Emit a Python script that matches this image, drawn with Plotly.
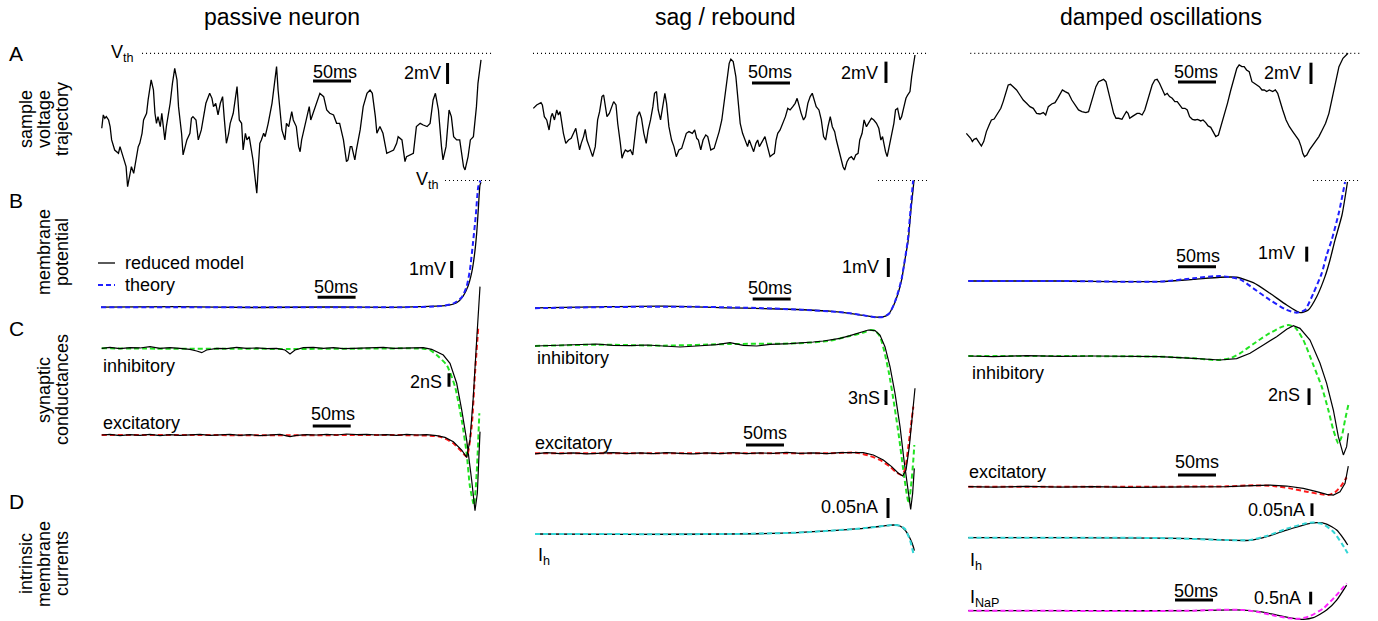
import plotly.graph_objects as go

W, H = 1378, 621
FONT = "Liberation Sans, Arial, Helvetica, sans-serif"

# ---------------- data (time in ms relative to spike threshold crossing) ----------------
# A: sample voltage trajectories, V - Vth (mV)
A_PASSIVE = [(-499,-7.14),(-497,-5.87),(-495,-6.19),(-493,-6.03),(-490,-6.35),(-488,-6.98),(-486,-8.25),(-482,-9.21),(-477,-9.52),(-475,-8.89),(-471,-9.84),(-467,-10.79),(-465,-12.70),(-463,-11.75),(-460,-10.79),(-457,-11.43),(-455,-10.48),(-451,-8.89),(-449,-8.57),(-446,-7.62),(-444,-6.35),(-440,-5.71),(-438,-4.44),(-434,-2.54),(-431,-3.49),(-429,-5.71),(-427,-6.67),(-425,-6.03),(-422,-6.98),(-420,-5.71),(-418,-6.98),(-416,-8.25),(-414,-6.98),(-409,-4.76),(-406,-2.86),(-403,-1.43),(-400,-2.54),(-398,-5.08),(-396,-6.35),(-394,-7.62),(-392,-9.68),(-387,-8.25),(-383,-7.62),(-381,-6.19),(-379,-6.03),(-375,-6.35),(-372,-8.25),(-368,-7.30),(-362,-4.76),(-359,-4.13),(-357,-3.81),(-354,-4.29),(-352,-5.08),(-349,-4.76),(-346,-5.87),(-343,-4.76),(-340,-4.13),(-338,-6.03),(-335,-8.57),(-332,-7.62),(-330,-6.67),(-326,-5.71),(-321,-3.17),(-318,-6.35),(-315,-6.67),(-313,-9.21),(-310,-7.62),(-308,-8.25),(-305,-7.94),(-300,-10.16),(-295,-13.33),(-293,-10.79),(-291,-8.57),(-289,-8.25),(-286,-7.62),(-284,-7.94),(-280,-6.67),(-275,-4.76),(-272,-2.86),(-269,-1.27),(-267,-3.49),(-264,-6.03),(-262,-7.30),(-258,-8.25),(-256,-6.67),(-253,-6.98),(-249,-5.56),(-247,-6.35),(-243,-6.98),(-240,-8.89),(-238,-9.37),(-236,-8.25),(-234,-7.62),(-229,-6.03),(-226,-5.08),(-224,-6.35),(-221,-5.71),(-216,-4.76),(-212,-3.81),(-207,-4.13),(-203,-5.40),(-199,-5.71),(-194,-5.87),(-190,-6.67),(-186,-6.67),(-181,-8.25),(-177,-10.32),(-175,-10.16),(-172,-8.89),(-170,-8.89),(-168,-9.68),(-166,-10.16),(-164,-9.21),(-159,-7.30),(-155,-5.08),(-150,-3.81),(-146,-3.49),(-143,-3.81),(-139,-6.03),(-137,-7.62),(-133,-6.98),(-129,-7.62),(-124,-9.52),(-120,-9.37),(-115,-9.21),(-111,-8.57),(-109,-7.94),(-104,-8.25),(-100,-10.32),(-98,-9.84),(-93,-9.68),(-89,-9.52),(-85,-6.98),(-80,-6.67),(-76,-6.83),(-71,-6.98),(-67,-6.67),(-63,-4.44),(-60,-3.81),(-56,-5.40),(-52,-8.89),(-50,-10.16),(-46,-8.89),(-42,-5.40),(-39,-6.03),(-36,-7.94),(-32,-8.25),(-28,-8.25),(-23,-10.79),(-21,-11.11),(-17,-9.84),(-14,-8.25),(-10,-7.94),(-6,-5.08),(-4,-2.86),(0,-0.63)]

A_SAG = [(-502.2,-5.16),(-497.8,-4.84),(-492.1,-4.63),(-490.3,-4.84),(-487.7,-5.94),(-484.6,-6.25),(-481.5,-7.19),(-478.9,-5.94),(-477.1,-5.63),(-474.4,-6.25),(-471.4,-5.31),(-469.2,-5.78),(-467.0,-5.47),(-464.8,-6.56),(-462.6,-7.50),(-459.5,-8.44),(-455.9,-8.13),(-452.4,-7.97),(-449.3,-7.50),(-446.3,-7.03),(-443.6,-8.13),(-441.4,-9.06),(-439.2,-8.44),(-436.1,-7.81),(-433.9,-7.13),(-431.7,-8.13),(-428.6,-8.75),(-424.2,-9.69),(-420.7,-8.75),(-417.6,-6.25),(-415.0,-5.47),(-411.9,-4.06),(-409.7,-3.91),(-407.5,-5.00),(-405.3,-5.94),(-402.2,-5.63),(-398.7,-5.00),(-396.5,-4.53),(-393.4,-4.84),(-391.2,-6.56),(-387.7,-8.44),(-385.5,-9.84),(-383.3,-9.38),(-381.1,-9.06),(-378.0,-9.22),(-374.4,-9.06),(-371.4,-9.53),(-368.7,-7.81),(-365.6,-5.94),(-362.6,-5.47),(-359.9,-6.09),(-356.8,-7.50),(-353.7,-8.44),(-351.1,-7.19),(-348.0,-6.25),(-344.9,-5.00),(-342.7,-3.75),(-340.1,-3.59),(-337.9,-5.31),(-334.8,-6.25),(-331.7,-5.00),(-329.1,-3.75),(-326.9,-4.69),(-323.8,-6.88),(-320.3,-8.13),(-317.2,-8.75),(-314.1,-9.69),(-310.6,-9.06),(-307.0,-8.91),(-304.0,-8.13),(-300.9,-7.50),(-297.4,-7.34),(-293.0,-7.50),(-289.9,-7.19),(-287.2,-7.97),(-285.0,-8.13),(-281.9,-9.06),(-278.9,-8.13),(-275.3,-7.66),(-272.7,-7.81),(-270.9,-8.44),(-268.7,-9.06),(-264.3,-8.91),(-260.8,-8.13),(-257.7,-7.34),(-254.2,-6.25),(-251.1,-4.38),(-248.0,-2.50),(-244.5,-0.94),(-242.3,-0.56),(-239.2,-0.78),(-235.7,-2.19),(-232.6,-4.38),(-230.0,-6.56),(-226.9,-7.50),(-223.3,-8.28),(-220.3,-8.75),(-218.1,-8.13),(-214.5,-8.91),(-212.3,-9.22),(-209.3,-8.44),(-207.0,-8.13),(-204.8,-8.75),(-202.6,-8.44),(-199.6,-8.13),(-197.4,-7.81),(-195.2,-8.44),(-192.5,-9.38),(-190.7,-9.69),(-188.1,-9.53),(-185.0,-9.38),(-182.8,-8.13),(-180.6,-7.50),(-177.5,-7.19),(-174.0,-6.56),(-170.5,-5.94),(-167.4,-5.16),(-164.3,-5.31),(-160.8,-5.00),(-157.7,-4.69),(-155.1,-4.22),(-152.9,-4.84),(-149.8,-5.63),(-146.7,-6.25),(-144.1,-5.94),(-141.0,-4.69),(-137.9,-4.06),(-135.2,-3.75),(-132.2,-4.38),(-130.0,-5.00),(-126.4,-5.31),(-123.3,-6.25),(-120.3,-7.81),(-117.6,-8.13),(-114.5,-6.88),(-111.5,-5.94),(-108.8,-6.88),(-105.7,-7.34),(-103.5,-8.13),(-101.3,-8.75),(-98.2,-9.69),(-94.7,-10.63),(-92.5,-10.94),(-89.4,-10.16),(-86.8,-9.84),(-83.7,-9.69),(-80.6,-10.00),(-78.0,-9.53),(-74.9,-9.38),(-72.7,-8.13),(-69.6,-7.50),(-67.0,-6.25),(-63.9,-6.88),(-60.8,-6.56),(-57.3,-6.09),(-54.2,-6.25),(-50.7,-6.56),(-47.6,-7.03),(-44.9,-8.13),(-42.7,-7.81),(-41.0,-8.44),(-38.8,-9.22),(-36.6,-9.69),(-33.9,-8.75),(-30.8,-7.50),(-27.8,-6.56),(-25.6,-5.31),(-22.9,-5.16),(-19.8,-6.25),(-17.6,-5.94),(-14.5,-5.00),(-11.9,-4.22),(-9.7,-3.91),(-6.6,-3.59),(-4.4,-2.19),(-2.2,-0.94),(0.0,-0.16)]

A_DAMPED = [(-502.2,-7.50),(-499.1,-7.75),(-496.5,-7.97),(-494.3,-8.28),(-492.1,-8.06),(-489.0,-7.97),(-485.9,-8.28),(-482.4,-8.69),(-479.3,-8.28),(-475.8,-7.34),(-472.2,-6.72),(-469.2,-6.25),(-465.6,-6.16),(-462.6,-5.78),(-459.5,-5.41),(-456.8,-5.16),(-453.7,-4.53),(-450.7,-3.75),(-447.1,-2.97),(-444.1,-2.91),(-440.5,-3.13),(-436.1,-3.44),(-431.7,-3.91),(-427.3,-4.38),(-422.9,-4.69),(-418.5,-5.00),(-414.1,-5.16),(-409.7,-5.63),(-405.3,-5.69),(-400.9,-5.56),(-397.8,-5.78),(-394.3,-5.00),(-389.9,-4.75),(-385.5,-4.63),(-382.0,-4.22),(-378.9,-3.75),(-375.8,-3.44),(-372.2,-3.59),(-367.8,-3.75),(-363.4,-4.38),(-359.0,-4.84),(-354.6,-5.31),(-350.2,-5.47),(-344.9,-5.56),(-341.4,-5.47),(-337.9,-4.53),(-334.8,-3.75),(-331.7,-3.13),(-328.2,-2.66),(-324.7,-2.50),(-321.6,-2.44),(-318.5,-2.66),(-315.0,-3.59),(-311.5,-4.69),(-308.4,-5.63),(-305.3,-6.09),(-301.8,-6.09),(-297.4,-6.19),(-294.3,-5.78),(-291.6,-5.47),(-289.4,-5.63),(-287.2,-6.09),(-284.1,-5.94),(-280.6,-5.78),(-277.5,-5.63),(-274.4,-5.63),(-270.9,-5.78),(-267.4,-5.31),(-264.3,-4.53),(-261.2,-3.75),(-257.7,-2.97),(-254.2,-2.50),(-251.1,-2.44),(-248.0,-2.81),(-244.5,-3.44),(-241.0,-3.91),(-237.9,-3.75),(-234.8,-4.06),(-231.3,-4.22),(-227.8,-4.53),(-224.7,-4.53),(-221.6,-4.84),(-218.1,-5.16),(-214.5,-5.16),(-211.5,-5.31),(-208.4,-5.94),(-204.8,-6.19),(-201.3,-6.25),(-197.8,-6.19),(-193.8,-6.34),(-190.7,-6.25),(-187.2,-6.50),(-184.1,-6.81),(-180.6,-6.94),(-177.5,-7.34),(-174.0,-7.81),(-170.5,-7.66),(-167.4,-6.88),(-163.0,-5.94),(-158.6,-4.69),(-154.2,-3.44),(-149.8,-2.19),(-146.3,-1.41),(-143.2,-1.09),(-139.6,-1.25),(-136.6,-1.25),(-133.5,-1.56),(-130.0,-1.72),(-126.4,-2.66),(-123.3,-2.81),(-120.3,-2.97),(-116.7,-3.13),(-113.2,-3.44),(-110.1,-3.44),(-107.0,-3.59),(-103.5,-3.44),(-99.1,-3.59),(-95.6,-3.44),(-92.5,-3.75),(-89.4,-4.53),(-85.9,-5.31),(-81.5,-6.25),(-77.1,-6.88),(-72.7,-7.34),(-68.3,-7.75),(-64.8,-8.13),(-61.7,-8.75),(-59.5,-9.38),(-57.3,-9.69),(-54.2,-9.53),(-50.7,-9.06),(-47.1,-8.69),(-42.7,-8.28),(-38.3,-7.81),(-33.9,-7.19),(-29.5,-6.56),(-25.1,-5.63),(-20.7,-4.06),(-16.3,-2.50),(-11.9,-1.25),(-6.6,-0.47),(-2.2,-0.09),(0.0,0.0)]

# B: spike-triggered membrane potential, V - Vth (mV)
B_PASSIVE_MODEL = [(-500,-7.45),(-400,-7.42),(-300,-7.47),(-200,-7.44),(-120,-7.46),(-80,-7.42),(-45.1,-7.35),(-32,-7.19),(-23.7,-6.81),(-17.1,-6.22),(-12.2,-5.41),(-8.8,-4.45),(-5.7,-3.11),(-3.6,-1.74),(-1.3,-0.26),(0,-0.1)]
B_PASSIVE_THEORY = [(-500,-7.45),(-300,-7.45),(-100,-7.45),(-53.9,-7.39),(-36.8,-7.24),(-25.4,-6.88),(-18.8,-6.22),(-14.5,-5.24),(-10.5,-3.65),(-7.0,-2.13),(-3.6,-0.36),(-2.2,-0.2),(-1.0,0.0)]
B_SAG_MODEL = [(-500,-6.70),(-418.8,-6.65),(-331.2,-6.61),(-243.4,-6.70),(-199.6,-6.74),(-155.7,-6.79),(-111.8,-6.88),(-76.7,-7.05),(-54.8,-7.18),(-43.9,-7.19),(-35.1,-7.05),(-28.5,-6.61),(-22.0,-5.91),(-17.5,-5.21),(-13.2,-4.16),(-8.8,-3.11),(-5.3,-1.53),(-1.3,0.0)]
B_SAG_THEORY = [(-500,-6.72),(-400,-6.66),(-300,-6.64),(-200,-6.72),(-150,-6.80),(-100,-6.92),(-70,-7.08),(-52,-7.20),(-42,-7.18),(-34,-7.00),(-28,-6.55),(-22,-5.85),(-17.5,-5.15),(-13.5,-4.20),(-9.5,-3.15),(-6,-1.6),(-2.5,0.0)]
B_DAMPED_MODEL = [(-499.6,-6.70),(-378.9,-6.70),(-247.4,-6.74),(-203.5,-6.59),(-168.4,-6.45),(-146.5,-6.45),(-124.6,-6.81),(-102.6,-7.52),(-80.7,-8.30),(-63.2,-8.81),(-52.2,-8.63),(-41.2,-7.75),(-30.3,-6.41),(-23.7,-5.30),(-17.1,-3.97),(-7.9,-2.3),(-0.7,-0.1)]
B_DAMPED_THEORY = [(-499.6,-6.70),(-378.9,-6.70),(-247.4,-6.74),(-203.5,-6.52),(-168.4,-6.37),(-142.1,-6.59),(-124.6,-7.19),(-102.6,-7.97),(-80.7,-8.63),(-67.5,-8.81),(-56.6,-8.63),(-45.6,-7.52),(-34.6,-6.19),(-28.0,-4.97),(-21.5,-3.97),(-11.8,-2.1),(-3.9,-0.1)]

# C: spike-triggered synaptic conductances, change from mean (nS)
C_PASSIVE_INH_MODEL = [(-499.1,0),(-488.2,0.15),(-475.0,-0.05),(-461.8,0.10),(-448.7,0.05),(-435.5,0.25),(-422.4,0),(-409.2,0.10),(-396.1,0),(-382.9,-0.15),(-374.1,-0.40),(-367.5,-0.65),(-361.0,-0.25),(-347.8,0),(-334.6,-0.05),(-321.5,0.15),(-308.3,0),(-295.2,0.05),(-282.0,-0.05),(-268.9,0),(-257.9,-0.25),(-251.3,-0.85),(-244.7,-0.25),(-233.8,0.10),(-220.6,0.15),(-207.5,0),(-194.3,0.10),(-181.1,-0.05),(-168.0,0),(-154.8,0.05),(-141.7,0.10),(-128.5,0.15),(-115.4,0),(-102.2,0.05),(-89.0,0.15),(-75.9,0.10),(-64.9,-0.15),(-56.1,-0.60),(-49.6,-1.00),(-40.8,-2.24),(-32.0,-5.22),(-25.4,-9.20),(-18.9,-13.68),(-12.3,-19.65),(-7.9,-24.23),(-4.8,-21.64),(-2.2,-13.68),(-1.3,-12.44)]
C_PASSIVE_INH_THEORY = [(-499.1,0),(-426.8,-0.05),(-339.0,-0.05),(-251.3,-0.10),(-163.6,-0.05),(-75.9,-0.05),(-67.1,-0.25),(-58.3,-1.00),(-45.2,-2.49),(-34.2,-5.72),(-25.4,-10.70),(-18.9,-15.67),(-14.5,-20.65),(-9.2,-23.38),(-5.7,-18.66),(-2.2,-9.70)]
C_PASSIVE_EXC_MODEL = [(-499.1,0),(-488.2,0.10),(-475.0,-0.10),(-461.8,0.05),(-448.7,-0.05),(-435.5,0.10),(-422.4,-0.10),(-409.2,0.05),(-396.1,-0.05),(-382.9,0),(-369.7,0.10),(-356.6,-0.05),(-343.4,0.05),(-330.3,0.10),(-317.1,-0.05),(-303.9,0.05),(-290.8,-0.10),(-277.6,0),(-264.5,0.10),(-251.3,-0.25),(-242.5,-0.05),(-229.4,0.05),(-216.2,0),(-203.1,0.10),(-189.9,0),(-176.8,0.15),(-163.6,0.05),(-150.4,0.10),(-137.3,0),(-124.1,0.05),(-111.0,-0.05),(-97.8,0.10),(-84.6,0),(-71.5,0.05),(-58.3,-0.10),(-47.4,-0.35),(-36.4,-1.00),(-25.4,-2.24),(-18.9,-3.33),(-14.5,-0.75),(-10.1,5.72),(-5.7,14.18),(-1.3,22.14)]
C_PASSIVE_EXC_THEORY = [(-499.1,0),(-382.9,0),(-251.3,-0.05),(-119.7,0),(-53.9,-0.25),(-36.4,-1.24),(-25.4,-2.49),(-18.9,-3.23),(-12.3,1.24),(-7.9,9.20),(-3.5,16.17)]

C_SAG_INH_MODEL = [(-500.0,0),(-480.3,0.07),(-462.7,0.13),(-440.8,0.20),(-418.9,0.40),(-396.9,0.13),(-375.0,0.07),(-353.1,0.20),(-331.1,0),(-309.2,-0.20),(-287.3,0),(-261.0,0.27),(-243.4,0.67),(-225.9,0.13),(-208.3,0),(-190.8,0.33),(-164.5,0.47),(-146.9,0.60),(-133.8,0.80),(-120.6,1.00),(-107.5,1.27),(-98.7,1.53),(-85.5,2.07),(-72.4,2.67),(-61.4,3.20),(-52.6,3.07),(-46.1,2.20),(-39.5,-0.13),(-32.9,-4.13),(-26.3,-9.47),(-19.7,-16.13),(-14.5,-22.80),(-10.1,-28.13),(-5.7,-32.67),(-3.1,-29.47),(-0.9,-24.47)]
C_SAG_INH_THEORY = [(-500.0,0),(-418.9,0.27),(-331.1,0.07),(-243.4,0.40),(-155.7,0.53),(-111.8,1.07),(-85.5,2.00),(-68.0,2.67),(-59.2,3.20),(-52.6,3.07),(-46.1,1.87),(-40.8,-0.80),(-34.2,-5.47),(-27.6,-11.47),(-21.1,-18.13),(-15.4,-24.80),(-11.0,-29.47),(-8.3,-31.47),(-5.3,-28.13),(-2.2,-22.80),(-0.9,-19.80)]
C_SAG_EXC_MODEL = [(-500.0,-0.13),(-484.6,0.13),(-467.1,-0.07),(-449.6,0.07),(-432.0,-0.13),(-414.5,0),(-396.9,0.13),(-379.4,-0.07),(-361.8,0.07),(-344.3,-0.07),(-326.8,0.13),(-309.2,0),(-291.7,-0.13),(-274.1,0.07),(-256.6,-0.07),(-239.0,0.13),(-221.5,-0.07),(-203.9,0.07),(-186.4,0),(-168.9,0.20),(-151.3,0),(-133.8,0.07),(-116.2,-0.07),(-98.7,0.13),(-81.1,0.20),(-68.0,0.13),(-54.8,-0.33),(-41.7,-1.33),(-30.7,-2.67),(-21.9,-4.00),(-16.2,-4.53),(-11.8,-3.33),(-7.5,1.33),(-3.5,8.00),(0.0,13.00)]
C_SAG_EXC_THEORY = [(-500,0),(-375.0,0),(-243.4,0),(-111.8,0),(-76.8,0.13),(-59.2,-0.53),(-46.1,-1.33),(-32.9,-2.67),(-24.1,-3.87),(-17.5,-4.33),(-13.2,-3.33),(-8.8,1.33),(-4.4,6.67),(-2.2,9.33)]

C_DAMPED_INH_MODEL = [(-499.6,0),(-466.7,-0.08),(-422.8,0.04),(-378.9,-0.04),(-335.1,0),(-291.2,-0.08),(-247.4,-0.08),(-203.5,-0.28),(-168.4,-0.48),(-146.5,-0.32),(-128.9,0.32),(-111.4,1.32),(-93.9,2.32),(-80.7,3.20),(-71.9,3.64),(-63.2,3.32),(-50.0,1.92),(-36.8,-0.88),(-28.1,-3.28),(-19.3,-6.48),(-12.7,-9.68),(-6.1,-11.88),(-1.8,-10.88),(0.4,-9.28)]
C_DAMPED_INH_THEORY = [(-499.6,0),(-378.9,0),(-247.4,-0.08),(-203.5,-0.28),(-172.8,-0.48),(-155.3,-0.28),(-142.1,0.32),(-124.6,1.44),(-107.0,2.52),(-89.5,3.40),(-78.5,3.72),(-69.7,3.44),(-58.8,1.92),(-45.6,-1.08),(-34.6,-3.68),(-25.9,-6.48),(-19.3,-8.88),(-12.7,-10.48),(-8.3,-9.68),(-3.9,-7.68),(0.4,-5.88)]
C_DAMPED_EXC_MODEL = [(-499.6,0),(-466.7,-0.04),(-422.8,0.04),(-378.9,-0.04),(-335.1,0),(-291.2,-0.08),(-247.4,-0.04),(-203.5,-0.04),(-159.6,0),(-124.6,0.12),(-102.6,0.20),(-80.7,0.08),(-58.8,-0.20),(-41.2,-0.60),(-28.1,-0.92),(-19.3,-1.00),(-10.5,-0.60),(-3.9,0.40),(0.4,2.48)]
C_DAMPED_EXC_THEORY = [(-499.6,0),(-335.1,0),(-159.6,0.04),(-124.6,0.16),(-98.2,0.08),(-76.3,-0.20),(-54.4,-0.60),(-36.8,-0.88),(-25.9,-1.00),(-17.1,-0.68),(-8.3,0.20),(-1.8,1.12)]

# D: spike-triggered intrinsic currents, change from mean (Ih in pA, INaP in nA)
D_SAG_IH_MODEL = [(-500,0),(-375.0,-0.8),(-243.4,0),(-155.7,3.3),(-111.8,8.3),(-68.0,14.2),(-41.7,20.0),(-28.5,22.5),(-19.7,20.0),(-13.2,10.0),(-6.6,-10.8),(-2.2,-31.7),(-0.9,-41.7)]
D_SAG_IH_THEORY = [(-500,0),(-243.4,0),(-155.7,3.3),(-111.8,8.3),(-68.0,14.2),(-41.7,20.0),(-28.5,22.5),(-19.7,20.8),(-13.2,12.5),(-6.6,-15.0),(-2.2,-48.3)]
D_DAMPED_IH_MODEL = [(-499.6,0),(-378.9,0),(-247.4,-1.3),(-203.5,-3.9),(-159.6,-9.2),(-128.9,-10.5),(-107.0,3.9),(-80.7,30.3),(-58.8,50.0),(-41.2,59.2),(-28.1,53.9),(-14.9,30.3),(-6.1,-2.6),(-0.4,-28.9)]
D_DAMPED_IH_THEORY = [(-499.6,0),(-247.4,-1.3),(-159.6,-9.2),(-128.9,-9.2),(-107.0,6.6),(-80.7,35.5),(-58.8,53.9),(-45.6,60.5),(-32.5,52.6),(-19.3,23.7),(-8.3,-22.4),(-0.4,-61.8)]
D_DAMPED_NAP_MODEL = [(-499.6,0),(-335.1,0),(-203.5,0),(-168.4,0.026),(-137.7,0.026),(-115.8,-0.039),(-93.9,-0.171),(-71.9,-0.303),(-58.8,-0.342),(-45.6,-0.276),(-28.1,0.026),(-14.9,0.421),(-1.8,1.013)]
D_DAMPED_NAP_THEORY = [(-499.6,0),(-203.5,0),(-168.4,0.039),(-137.7,0.026),(-115.8,-0.066),(-93.9,-0.211),(-76.3,-0.303),(-63.2,-0.316),(-50.0,-0.211),(-32.5,0.092),(-17.1,0.553),(-1.8,1.079)]

COLUMN_TITLES = ["passive neuron", "sag / rebound", "damped oscillations"]
ROW_LETTERS = ["A", "B", "C", "D"]
ROW_LABELS = [["sample", "voltage", "trajectory"], ["membrane", "potential"],
              ["synaptic", "conductances"], ["intrinsic", "membrane", "currents"]]
SCALE_MS = 50

# ---------------- geometry / styling ----------------
PX_PER_MS = 0.76
COL_T0_PX = [481, 915, 1348]   # x pixel of t = 0 in each column
T_VIEW = (-530, 25)
C_BLUE, C_GREEN, C_RED, C_CYAN, C_MAG = "#1f1fff", "#22e322", "#ff1a1a", "#33d6d6", "#ff22ff"
DASH = "5px,3px"
DOTS = "1px,3px"

# panel key -> (column, pixel y of zero, pixels per unit)
PANELS = {
    "pA": (0, 53.3, 10.5), "pB": (0, 180.5, 17.0), "pCi": (0, 348.3, 6.7), "pCe": (0, 435.0, 6.7),
    "sA": (1, 53.3, 10.667), "sB": (1, 180.5, 19.0), "sCi": (1, 346.0, 5.0), "sCe": (1, 453.3, 5.0),
    "sIh": (1, 534.0, 0.4),
    "dA": (2, 53.3, 10.667), "dB": (2, 180.5, 15.0), "dCi": (2, 356.0, 8.33), "dCe": (2, 486.7, 8.33),
    "dIh": (2, 537.7, 0.253), "dNaP": (2, 610.7, 25.3),
}

fig = go.Figure()
layout = dict(width=W, height=H, margin=dict(l=0, r=0, t=0, b=0), autosize=False,
              paper_bgcolor="white", plot_bgcolor="rgba(0,0,0,0)", showlegend=False,
              font=dict(family=FONT, size=18, color="black"))

AX = {}
for c, x_end in enumerate(COL_T0_PX):
    nm = "xaxis" if c == 0 else f"xaxis{c + 1}"
    layout[nm] = dict(domain=[(x_end + T_VIEW[0] * PX_PER_MS) / W, (x_end + T_VIEW[1] * PX_PER_MS) / W],
                      range=list(T_VIEW), visible=False, fixedrange=True)
for i, (key, (col, y0, s)) in enumerate(PANELS.items()):
    n = i + 1
    nm = "yaxis" if n == 1 else f"yaxis{n}"
    xr = "x" if col == 0 else f"x{col + 1}"
    layout[nm] = dict(domain=[0, 1], range=[-(H - y0) / s, y0 / s], visible=False,
                      fixedrange=True, anchor=xr)
    AX[key] = (xr, "y" if n == 1 else f"y{n}")
for c in range(3):
    nm = "xaxis" if c == 0 else f"xaxis{c + 1}"
    first = [k for k, v in PANELS.items() if v[0] == c][0]
    layout[nm]["anchor"] = AX[first][1]


def trace(panel, pts, color="black", width=1.3, dash=None, smooth=False):
    t, v = zip(*pts)
    xr, yr = AX[panel]
    fig.add_trace(go.Scatter(
        x=list(t), y=list(v), mode="lines", xaxis=xr, yaxis=yr, hoverinfo="skip",
        line=dict(color=color, width=width, dash=dash,
                  shape="spline" if smooth else "linear", smoothing=0.6 if smooth else None)))


def hbar(panel, t0, level):
    trace(panel, [(t0, level), (t0 + SCALE_MS, level)], width=3)


def vbar(panel, t, v0, length):
    trace(panel, [(t, v0), (t, v0 + length)], width=3)


def vth(panel, t0, t1):
    trace(panel, [(t0, 0), (t1, 0)], width=1.2, dash=DOTS)


# Row A
trace("pA", A_PASSIVE); trace("sA", A_SAG); trace("dA", A_DAMPED)
vth("pA", -446, 15.8); vth("sA", -502.6, 15.8); vth("dA", -497, 15.8)
# Row B
for key, mdl, th in [("pB", B_PASSIVE_MODEL, B_PASSIVE_THEORY), ("sB", B_SAG_MODEL, B_SAG_THEORY),
                     ("dB", B_DAMPED_MODEL, B_DAMPED_THEORY)]:
    trace(key, mdl, smooth=True)
    trace(key, th, color=C_BLUE, width=2, dash=DASH, smooth=True)
vth("pB", -47.4, 15.8); vth("sB", -48.7, 15.8); vth("dB", -46, 15.8)
# Row C
for ki, ke, im, it, em, et in [
        ("pCi", "pCe", C_PASSIVE_INH_MODEL, C_PASSIVE_INH_THEORY, C_PASSIVE_EXC_MODEL, C_PASSIVE_EXC_THEORY),
        ("sCi", "sCe", C_SAG_INH_MODEL, C_SAG_INH_THEORY, C_SAG_EXC_MODEL, C_SAG_EXC_THEORY),
        ("dCi", "dCe", C_DAMPED_INH_MODEL, C_DAMPED_INH_THEORY, C_DAMPED_EXC_MODEL, C_DAMPED_EXC_THEORY)]:
    trace(ke, et, color=C_RED, width=2, dash=DASH, smooth=True)
    trace(ki, it, color=C_GREEN, width=2, dash=DASH, smooth=True)
    trace(ke, em, width=1.2)
    trace(ki, im, width=1.2)
# Row D
trace("sIh", D_SAG_IH_MODEL, smooth=True)
trace("sIh", D_SAG_IH_THEORY, color=C_CYAN, width=2, dash=DASH, smooth=True)
trace("dIh", D_DAMPED_IH_MODEL, smooth=True)
trace("dIh", D_DAMPED_IH_THEORY, color=C_CYAN, width=2, dash=DASH, smooth=True)
trace("dNaP", D_DAMPED_NAP_MODEL, smooth=True)
trace("dNaP", D_DAMPED_NAP_THEORY, color=C_MAG, width=2, dash=DASH, smooth=True)

# Scale bars (data units of each panel)
hbar("pA", -221, -2.64); vbar("pA", -44, -2.92, 2)
hbar("pB", -215, -6.87); vbar("pB", -38.6, -5.74, 1)
hbar("pCe", -221.4, 1.34); vbar("pCi", -42.1, -5.73, 2)
hbar("sA", -214.5, -2.78); vbar("sA", -38.2, -2.78, 2)
hbar("sB", -213.6, -6.24); vbar("sB", -35.1, -5.08, 1)
hbar("sCe", -222.4, 1.66); vbar("sCi", -38.2, -11.8, 3)
vbar("sIh", -35.5, 40, 50)
hbar("dA", -223.7, -2.69); vbar("dA", -48.7, -2.88, 2)
hbar("dB", -223.7, -5.75); vbar("dB", -54.3, -5.41, 1)
hbar("dCe", -223.7, 1.40); vbar("dCi", -51.3, -5.88, 2)
vbar("dIh", -47.4, 85.8, 50)
hbar("dNaP", -227.6, 0.42); vbar("dNaP", -49.1, 0.25, 0.5)

# ---------------- text ----------------
ann = []


def txt(x, y, s, size=18, xanchor="center", angle=0):
    ann.append(dict(x=x / W, y=1 - y / H, xref="paper", yref="paper", text=s, showarrow=False,
                    xanchor=xanchor, yanchor="middle", textangle=angle,
                    font=dict(size=size, family=FONT, color="black")))


for x, t in zip([282, 725, 1161], COLUMN_TITLES):
    txt(x, 17, t, size=23)
for y, letter in zip([53, 200, 328, 501], ROW_LETTERS):
    txt(16, y, letter, size=21)
for yc, lines in zip([119, 252, 390, 564], ROW_LABELS):
    xs = [26, 44, 62] if len(lines) == 3 else [44, 62]
    for x, w in zip(xs, lines):
        txt(x, yc, w, angle=-90)

txt(109, 54, "V<sub>th</sub>", xanchor="left")
txt(414, 181, "V<sub>th</sub>", xanchor="left")

# scale-bar labels
for x, y in [(334.5, 72), (335.5, 287), (333, 414), (770, 72), (769.5, 288), (765, 433),
             (1196, 72), (1198, 256), (1197, 462), (1196, 591)]:
    txt(x, y, f"{SCALE_MS}ms")
for x, y, s in [(443, 73, "2mV"), (448, 269, "1mV"), (444, 382, "2nS"),
                (880, 73, "2mV"), (881, 267, "1mV"), (882, 398, "3nS"), (880, 507, "0.05nA"),
                (1303, 73, "2mV"), (1297, 253, "1mV"), (1302, 395, "2nS"), (1307, 510, "0.05nA"),
                (1303, 598, "0.5nA")]:
    txt(x, y, s, xanchor="right")

for x, y in [(101, 366), (535, 358), (970, 373)]:
    txt(x, y, "inhibitory", xanchor="left")
for x, y in [(101, 423), (533, 443), (967, 472)]:
    txt(x, y, "excitatory", xanchor="left")
txt(536, 556, "I<sub>h</sub>", xanchor="left")
txt(968, 561, "I<sub>h</sub>", xanchor="left")
txt(968, 598, "I<sub>NaP</sub>", xanchor="left")

# legend (column 1, row B)
txt(123, 263, "reduced model", xanchor="left")
txt(123, 285, "theory", xanchor="left")
shapes = [
    dict(type="line", xref="paper", yref="paper", x0=98 / W, x1=115 / W, y0=1 - 263 / H, y1=1 - 263 / H,
         line=dict(color="black", width=1.3)),
    dict(type="line", xref="paper", yref="paper", x0=98 / W, x1=115 / W, y0=1 - 285 / H, y1=1 - 285 / H,
         line=dict(color=C_BLUE, width=2, dash=DASH)),
]

layout["annotations"] = ann
layout["shapes"] = shapes
fig.update_layout(**layout)

fig.write_html("out.html", config={"displayModeBar": False, "staticPlot": True},
               post_script="document.body.style.margin='0';document.body.style.overflow='hidden';")
